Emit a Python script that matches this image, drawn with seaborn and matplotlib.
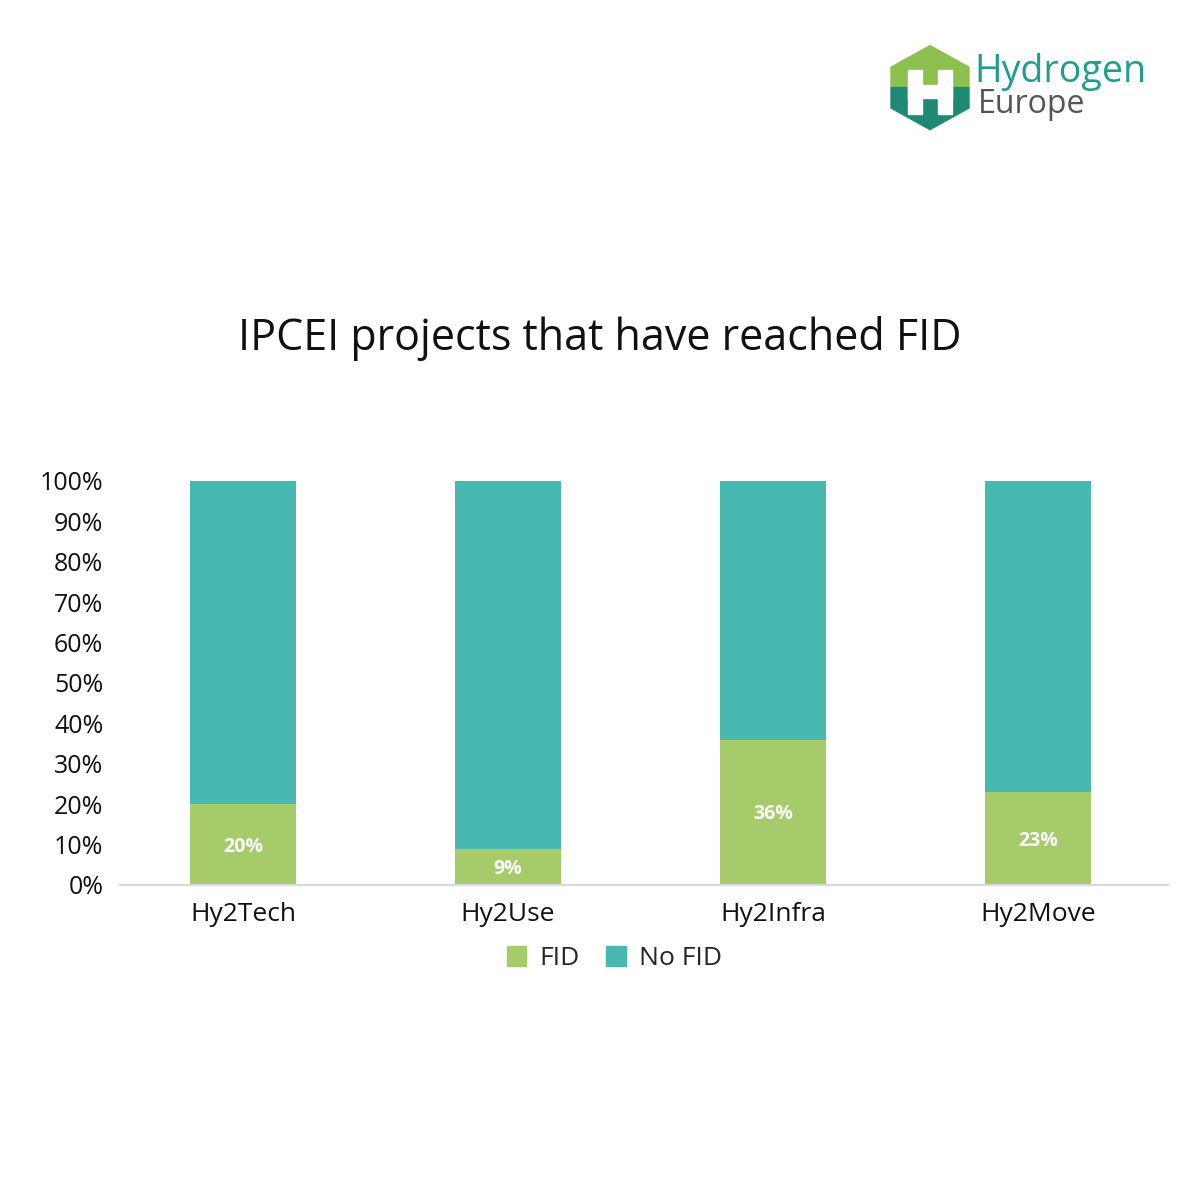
import matplotlib
matplotlib.use("Agg")
import matplotlib.pyplot as plt
from matplotlib.patches import Polygon, Rectangle, Patch
import seaborn as sns
import pandas as pd

# chart data
projects = ["Hy2Tech", "Hy2Use", "Hy2Infra", "Hy2Move"]
fid = [20, 9, 36, 23]
no_fid = [80, 91, 64, 77]

green = "#A5CB6A"
teal = "#48B9B1"

sns.set_style("white")
plt.rcParams['font.family'] = ['Open Sans', 'DejaVu Sans']

df = pd.DataFrame({"project": projects, "FID": fid, "No FID": no_fid})
df["total"] = df["FID"] + df["No FID"]

fig = plt.figure(figsize=(12, 12), dpi=100)
ax = fig.add_axes([0.1, 0.2625, 0.873, 0.3367])

sns.barplot(data=df, x="project", y="total", color=teal, width=0.4,
            saturation=1, linewidth=0, ax=ax)
sns.barplot(data=df, x="project", y="FID", color=green, width=0.4,
            saturation=1, linewidth=0, ax=ax)

for i, v in enumerate(df["FID"]):
    ax.text(i, v / 2 - 0.5, f"{v}%", ha="center", va="center", color="white",
            fontsize=14, fontweight="bold")

ax.set_ylim(0, 100)
ax.set_xlim(-0.464, 3.49)
ax.set_yticks(range(0, 101, 10))
ax.set_yticklabels([f"{t}%" for t in range(0, 101, 10)], fontsize=18)
ax.tick_params(axis="x", labelsize=19, length=0, pad=12)
ax.tick_params(axis="y", length=0, pad=12)
for lbl in ax.get_yticklabels() + ax.get_xticklabels():
    lbl.set_color("#111111")
ax.set_xlabel("")
ax.set_ylabel("")
for s in ["top", "right", "left"]:
    ax.spines[s].set_visible(False)
ax.spines["bottom"].set_color("#D9D9D9")
ax.spines["bottom"].set_linewidth(1.5)

handles = [Patch(color=green, label="FID"), Patch(color=teal, label="No FID")]
fig.legend(handles=handles, loc="center", bbox_to_anchor=(0.512, 0.201),
           ncol=2, frameon=False, fontsize=19, handlelength=0.75,
           handleheight=0.75, handletextpad=0.5, columnspacing=1.0)

fig.text(0.5, 0.718, "IPCEI projects that have reached FID", ha="center",
         va="center", fontsize=31, color="#111111")

# logo
tf = fig.transFigure
top = [(0.7425, 0.944), (0.775, 0.962), (0.8075, 0.944),
       (0.8075, 0.927), (0.7425, 0.927)]
bot = [(0.7425, 0.927), (0.8075, 0.927), (0.8075, 0.910),
       (0.775, 0.892), (0.7425, 0.910)]
fig.patches.append(Polygon(top, closed=True, color="#8DC04F",
                           transform=tf, figure=fig))
fig.patches.append(Polygon(bot, closed=True, color="#1E8A74",
                           transform=tf, figure=fig))
fig.patches.append(Rectangle((0.757, 0.905), 0.011, 0.037, color="white",
                             transform=tf, figure=fig))
fig.patches.append(Rectangle((0.782, 0.905), 0.011, 0.037, color="white",
                             transform=tf, figure=fig))
fig.patches.append(Rectangle((0.757, 0.918), 0.036, 0.011, color="white",
                             transform=tf, figure=fig))
fig.text(0.812, 0.940, "Hydrogen", fontsize=27, color="#1F9E8F",
         va="center", ha="left")
fig.text(0.815, 0.913, "Europe", fontsize=23, color="#555555",
         va="center", ha="left")

fig.savefig("out.png", dpi=100, facecolor="white")
